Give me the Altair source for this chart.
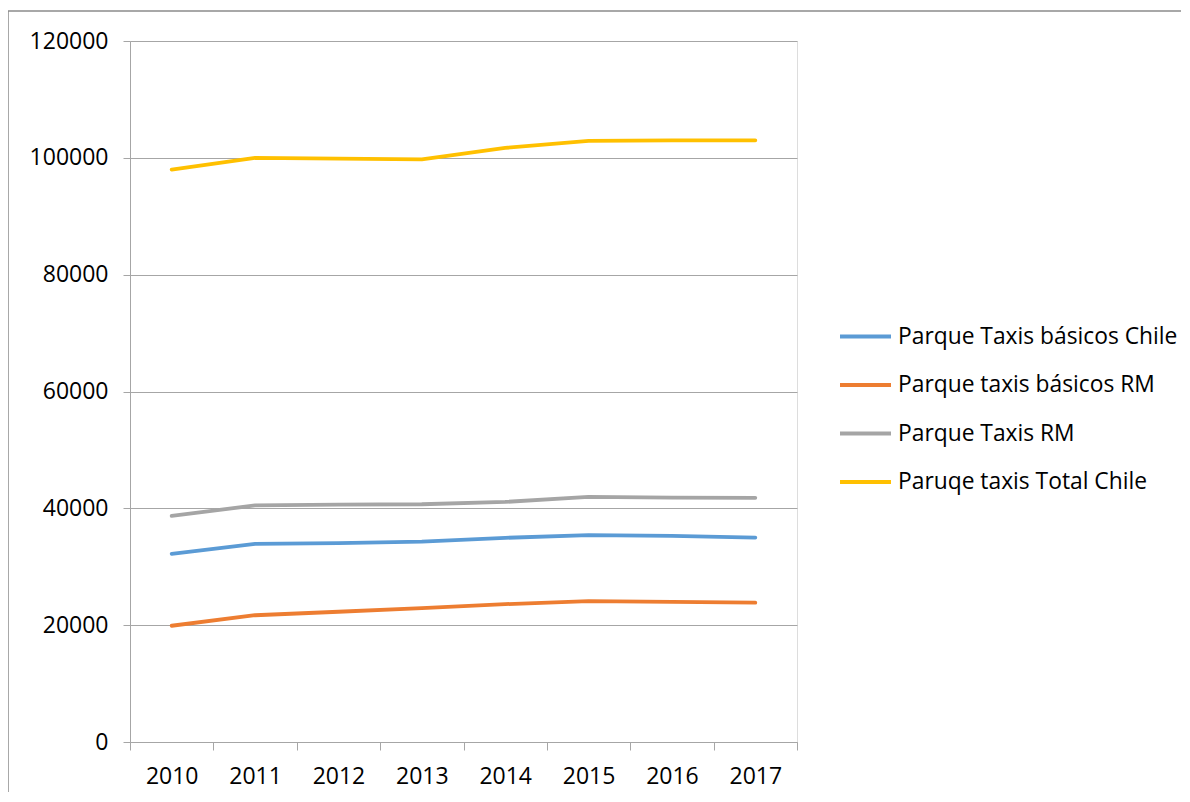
import altair as alt
import pandas as pd

years = ["2010", "2011", "2012", "2013", "2014", "2015", "2016", "2017"]
series_names = [
    "Parque Taxis básicos Chile",
    "Parque taxis básicos RM",
    "Parque Taxis RM",
    "Paruqe taxis Total Chile",
]
basicos_chile = [32200, 33900, 34050, 34300, 34950, 35400, 35300, 35000]
basicos_rm = [19900, 21700, 22300, 22900, 23600, 24100, 24000, 23850]
taxis_rm = [38700, 40500, 40650, 40700, 41100, 41950, 41850, 41800]
total_chile = [98000, 100000, 99850, 99750, 101700, 102900, 103000, 103000]
colors = ["#5B9BD5", "#ED7D31", "#A5A5A5", "#FFC000"]
y_ticks = [0, 20000, 40000, 60000, 80000, 100000, 120000]

rows = []
for name, vals in zip(series_names, [basicos_chile, basicos_rm, taxis_rm, total_chile]):
    for yr, v in zip(years, vals):
        rows.append({"year": yr, "value": v, "series": name})
df = pd.DataFrame(rows)

FONT = "Open Sans"
GRID = "#a6a6a6"

lines = alt.Chart(df).mark_line(strokeWidth=3.8, strokeCap="round", strokeJoin="round").encode(
    x=alt.X(
        "year:O",
        sort=years,
        bandPosition=0.5,
        scale=alt.Scale(type="band", paddingInner=0, paddingOuter=0),
        axis=alt.Axis(
            title=None,
            labelAngle=0,
            tickBand="extent",
            grid=False,
            domainColor=GRID,
            tickColor=GRID,
            tickSize=8,
            labelPadding=15,
            labelFontSize=23,
            labelFont=FONT,
            labelColor="#000000",
        ),
    ),
    y=alt.Y(
        "value:Q",
        scale=alt.Scale(domain=[0, 120000], nice=False),
        axis=alt.Axis(
            title=None,
            values=y_ticks,
            format="d",
            grid=True,
            gridColor=GRID,
            domainColor=GRID,
            tickColor=GRID,
            tickSize=7,
            labelPadding=15,
            labelFontSize=23,
            labelFont=FONT,
            labelColor="#000000",
        ),
    ),
    color=alt.Color(
        "series:N",
        sort=series_names,
        scale=alt.Scale(domain=series_names, range=colors),
        legend=alt.Legend(
            title=None,
            orient="none",
            legendX=708,
            legendY=268,
            symbolType="stroke",
            symbolSize=2600,
            symbolStrokeWidth=3.8,
            labelFontSize=22.8,
            labelFont=FONT,
            labelColor="#000000",
            labelLimit=0,
            rowPadding=8.5,
            labelOffset=5,
        ),
    ),
)

frame = alt.Chart(alt.Data(values=[{}])).mark_rect(
    fill=None, stroke="#8c8c8c", strokeWidth=1.5
).encode(
    x=alt.value(-122), x2=alt.value(1200), y=alt.value(-30), y2=alt.value(900)
)

chart = alt.layer(frame, lines).properties(
    width=667,
    height=701,
    autosize=alt.AutoSizeParams(type="none"),
    padding={"left": 122, "top": 33, "right": 384, "bottom": 50},
).configure_view(stroke=None).configure(background="white")

chart.save("out.html", embed_options={"renderer": "svg", "actions": False})
